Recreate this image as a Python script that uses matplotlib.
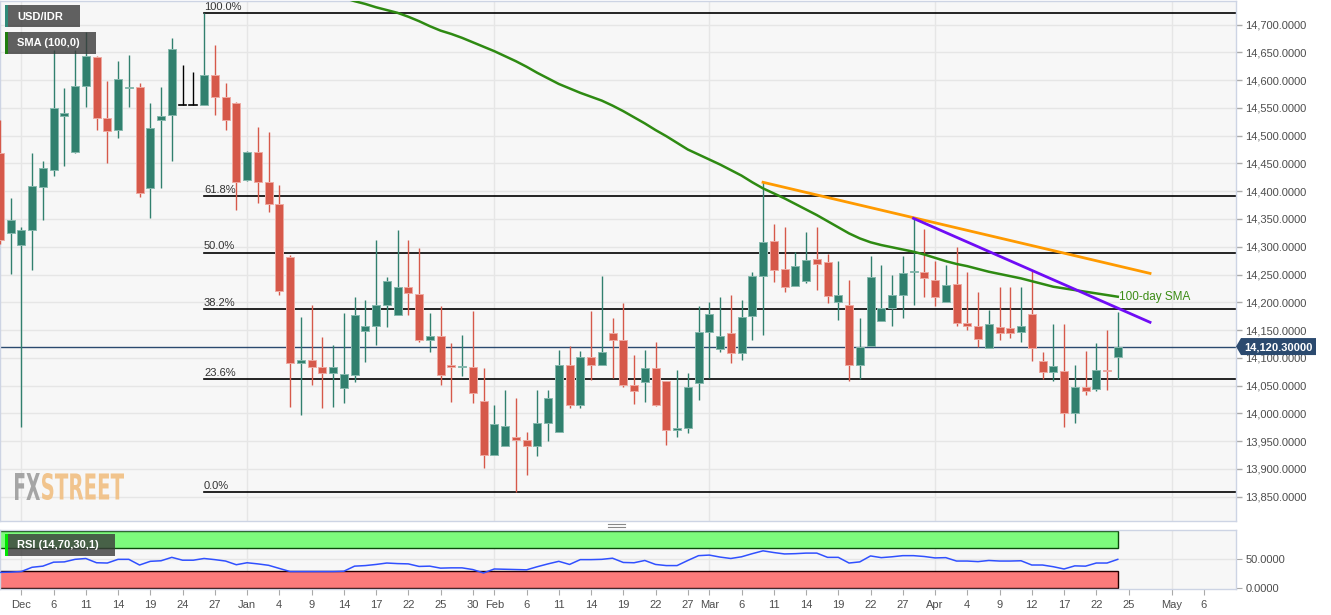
import numpy as np
import pandas as pd
import matplotlib
matplotlib.use('Agg')
import matplotlib.pyplot as plt
from matplotlib.patches import Rectangle, Polygon, PathPatch
from matplotlib.textpath import TextPath
from matplotlib.font_manager import FontProperties
from matplotlib.transforms import Affine2D
from matplotlib.ticker import FuncFormatter

plt.rcParams['font.family'] = ['Liberation Sans', 'DejaVu Sans']

# ---------------- data ----------------
first_date = '2018-11-29'
opens = [14469, 14324, 14304, 14331, 14408, 14439, 14536, 14470, 14590, 14641,
         14531, 14510, 14585, 14587, 14405, 14528, 14537, 14555, 14555, 14555,
         14609, 14569, 14559, 14421, 14470, 14416, 14377, 14281, 14090, 14096,
         14084, 14072, 14046, 14070, 14148, 14158, 14196, 14177, 14228, 14215,
         14132, 14139, 14087, 14083, 14084, 14023, 13926, 13942, 13957, 13952,
         13941, 13982, 13967, 14088, 14015, 14101, 14087, 14144, 14132, 14052,
         14056, 14081, 14059, 13971, 13974, 14054, 14147, 14116, 14144, 14109,
         14175, 14248, 14311, 14260, 14229, 14238, 14277, 14272, 14200, 14195,
         14087, 14121, 14167, 14190, 14213, 14254, 14255, 14240, 14200, 14233,
         14163, 14158, 14118, 14155, 14153, 14147, 14178, 14094, 14074, 14076,
         14000, 14048, 14044, 14078, 14101]
highs = [14528, 14388, 14336, 14468, 14454, 14654, 14585, 14654, 14686, 14643,
         14598, 14634, 14646, 14594, 14558, 14587, 14675, 14628, 14614, 14720,
         14663, 14594, 14560, 14472, 14516, 14506, 14411, 14285, 14173, 14195,
         14138, 14123, 14181, 14209, 14205, 14312, 14246, 14331, 14313, 14297,
         14181, 14194, 14126, 14142, 14185, 14081, 14015, 14043, 14027, 13966,
         14043, 14043, 14114, 14121, 14112, 14185, 14247, 14171, 14198, 14105,
         14115, 14128, 14059, 14078, 14073, 14193, 14200, 14210, 14214, 14205,
         14255, 14416, 14341, 14336, 14290, 14326, 14336, 14287, 14274, 14241,
         14171, 14284, 14268, 14250, 14284, 14351, 14332, 14275, 14267, 14300,
         14255, 14219, 14186, 14228, 14228, 14228, 14259, 14110, 14161, 14161,
         14087, 14112, 14127, 14150, 14182]
lows = [14305, 14251, 13975, 14259, 14348, 14427, 14445, 14468, 14552, 14511,
        14450, 14495, 14552, 14390, 14351, 14405, 14454, 14555, 14555, 14555,
        14537, 14511, 14367, 14418, 14379, 14363, 14214, 14011, 13997, 14051,
        14009, 14012, 14019, 14057, 14092, 14124, 14156, 14177, 14177, 14129,
        14110, 14052, 14020, 14068, 14019, 13901, 13926, 13942, 13859, 13890,
        13924, 13950, 13967, 14009, 14009, 14060, 14087, 14063, 14047, 14017,
        14021, 14014, 13944, 13958, 13965, 14024, 14064, 14111, 14090, 14097,
        14132, 14141, 14236, 14219, 14229, 14234, 14222, 14198, 14169, 14059,
        14062, 14121, 14167, 14157, 14171, 14196, 14209, 14193, 14200, 14157,
        14150, 14120, 14118, 14133, 14135, 14129, 14094, 14062, 14059, 13976,
        13983, 14034, 14041, 14042, 14062]
closes = [14312, 14348, 14330, 14409, 14441, 14549, 14540, 14589, 14643, 14531,
          14509, 14602, 14588, 14397, 14514, 14536, 14656, 14555, 14555, 14609,
          14570, 14528, 14417, 14470, 14417, 14377, 14221, 14090, 14096, 14084,
          14072, 14083, 14070, 14177, 14158, 14196, 14238, 14227, 14216, 14132,
          14140, 14070, 14083, 14085, 14036, 13926, 13981, 13978, 13953, 13941,
          13982, 14028, 14088, 14015, 14101, 14087, 14110, 14133, 14052, 14040,
          14081, 14016, 13971, 13974, 14048, 14147, 14179, 14140, 14109, 14174,
          14248, 14309, 14258, 14228, 14265, 14277, 14269, 14212, 14213, 14087,
          14120, 14246, 14189, 14213, 14252, 14255, 14244, 14210, 14231, 14163,
          14158, 14134, 14160, 14145, 14145, 14158, 14117, 14074, 14086, 14000,
          14048, 14041, 14078, 14076, 14120.3]

sma_first_date = '2019-01-10'
sma_100 = [14762, 14755, 14748, 14742, 14737, 14731, 14726, 14721, 14714, 14706,
           14697, 14689, 14683, 14676, 14668, 14660, 14652, 14643, 14634, 14624,
           14613, 14603, 14593, 14585, 14577, 14570, 14563, 14554, 14544, 14533,
           14522, 14510, 14499, 14487, 14475, 14466, 14457, 14448, 14438, 14428,
           14416, 14405, 14396, 14387, 14377, 14367, 14357, 14346, 14335, 14324,
           14315, 14308, 14303, 14299, 14295, 14291, 14286, 14280, 14274, 14269,
           14265, 14260, 14255, 14251, 14247, 14243, 14238, 14233, 14228, 14225,
           14222, 14219, 14216, 14213, 14210]

rsi = [27, 27.5, 28.5, 36, 38, 45, 45.5, 50, 51.5, 44,
       43.5, 50, 50, 40, 46.5, 47.5, 53.5, 48.5, 48.5, 51.5,
       49.5, 47, 40.5, 44, 42, 39.5, 34, 28.5, 28.5, 28.5,
       28.5, 28.5, 29, 38, 39, 41, 43.5, 42.5, 42, 37.5,
       38, 34.5, 35, 35, 32, 26, 33, 32.5, 32, 31.5,
       37, 42, 46.5, 41, 49.5, 49.5, 50, 52, 44.5, 44,
       48, 41, 39, 39, 48, 56.5, 57.5, 54, 51.5, 54.5,
       60, 65, 62, 59.5, 60, 61, 61, 53.5, 53.5, 43.5,
       45.5, 56, 53, 54.5, 56.5, 56.5, 55, 52.5, 53, 47,
       47, 46, 48, 47, 47, 47.5, 40, 40, 37, 33,
       38.5, 38, 43.5, 43.5, 50]

fib_high_date = '2018-12-26'
fib_high = 14720.2
fib_low = 13858.0
fib_ratios = [1.0, 0.618, 0.5, 0.382, 0.236, 0.0]
fib_labels = ['100.0%', '61.8%', '50.0%', '38.2%', '23.6%', '0.0%']

orange_dates = ['2019-03-08', '2019-04-29']
orange_vals = [14416, 14252]
purple_dates = ['2019-03-28', '2019-04-29']
purple_vals = [14351, 14164]

last_price = 14120.3

tick_dates = ['2018-12-03', '2018-12-06', '2018-12-11', '2018-12-14', '2018-12-19',
              '2018-12-24', '2018-12-27', '2019-01-01', '2019-01-04', '2019-01-09',
              '2019-01-14', '2019-01-17', '2019-01-22', '2019-01-25', '2019-01-30',
              '2019-02-01', '2019-02-06', '2019-02-11', '2019-02-14', '2019-02-19',
              '2019-02-22', '2019-02-27', '2019-03-01', '2019-03-06', '2019-03-11',
              '2019-03-14', '2019-03-19', '2019-03-22', '2019-03-27', '2019-04-01',
              '2019-04-04', '2019-04-09', '2019-04-12', '2019-04-17', '2019-04-22',
              '2019-04-25', '2019-05-01', '2019-05-06']
tick_labels = ['Dec', '6', '11', '14', '19', '24', '27', 'Jan', '4', '9', '14', '17',
               '22', '25', '30', 'Feb', '6', '11', '14', '19', '22', '27', 'Mar', '6',
               '11', '14', '19', '22', '27', 'Apr', '4', '9', '12', '17', '22', '25',
               'May', '6']
month_dates = ['2018-12-03', '2019-01-01', '2019-02-01', '2019-03-01', '2019-04-01', '2019-05-01']
price_ticks = list(range(13850, 14701, 50))

# ---------------- trading-day axis ----------------
cal = pd.bdate_range(first_date, '2019-05-31')
pos = {d.strftime('%Y-%m-%d'): k for k, d in enumerate(cal)}
P = lambda d: pos[d]
n = len(closes)
xs = np.arange(n)

GREEN = '#31806e'
RED = '#d6594a'
GREEN_E = '#86b8ad'
RED_E = '#eeaaa2'
GRID = '#e6e6e6'
BG = '#f7f7f7'
SPINE = '#cdd4e4'
TXT = '#4d4d4d'

W, H = 1331, 615
fig = plt.figure(figsize=(W / 100, H / 100), dpi=100)
fig.patch.set_facecolor('white')
XL = (0.0186, 114.97)

ax = fig.add_axes([0, (H - 521) / H, 1235.7 / W, 520 / H])
ax.set_facecolor(BG)
ax.set_xlim(*XL)
ax.set_ylim(13806.3, 14742.3)
for yv in price_ticks:
    ax.axhline(yv, color=GRID, lw=1, zorder=0)
for d in month_dates:
    ax.axvline(P(d), color=GRID, lw=1, zorder=0)

# fib levels
fx0 = P(fib_high_date)
for r, lab in zip(fib_ratios, fib_labels):
    lv = fib_low + r * (fib_high - fib_low)
    ax.plot([fx0, XL[1]], [lv, lv], color='black', lw=1.2, zorder=2)
    ax.text(fx0, lv + 3, lab, fontsize=8, color='#333333', ha='left', va='bottom', zorder=2)

# price line
ax.axhline(last_price, color='#2b4a6f', lw=1, zorder=2)

# candles
for x, o, h, l, c in zip(xs, opens, highs, lows, closes):
    if o == c:
        col, ecol = 'black', 'black'
    elif c > o:
        col, ecol = GREEN, GREEN_E
    else:
        col, ecol = RED, RED_E
    ax.plot([x, x], [l, h], color=col, lw=1, zorder=3, solid_capstyle='butt')
    if o == c:
        ax.plot([x - 0.36, x + 0.36], [o, o], color='black', lw=1.2, zorder=4)
    else:
        bot = min(o, c)
        hgt = max(abs(c - o), 2.5)
        ax.bar(x, hgt, bottom=bot, width=0.74, color=col, edgecolor=ecol,
               linewidth=0.7, zorder=4)

# SMA
s0 = P(sma_first_date)
ax.plot(np.arange(s0, s0 + len(sma_100)), sma_100, color='#2e8a12', lw=1.8, zorder=5)
ax.text(s0 + len(sma_100) - 1 + 0.1, sma_100[-1], '100-day SMA', fontsize=8.5,
        color='#3b8c14', ha='left', va='center', zorder=6)

# trend lines
ax.plot([P(d) for d in orange_dates], orange_vals, color='#ff9a00', lw=2, zorder=5)
ax.plot([P(d) for d in purple_dates], purple_vals, color='#6f0cf5', lw=2, zorder=5)

ax.yaxis.tick_right()
ax.set_yticks(price_ticks)
ax.yaxis.set_major_formatter(FuncFormatter(lambda v, p: f'{v:,.4f}'))
ax.tick_params(axis='y', length=4, width=1, color='#aaaaaa', labelsize=8,
               labelcolor=TXT, pad=3)
ax.tick_params(axis='x', bottom=False, labelbottom=False)
for s in ax.spines.values():
    s.set_color(SPINE)
    s.set_linewidth(1)

# ---------------- RSI panel ----------------
ar = fig.add_axes([0, (H - 588.5) / H, 1235.7 / W, 59 / H])
ar.set_facecolor(BG)
ar.set_xlim(*XL)
ar.set_ylim(-1.4, 102.6)
ar.axhline(50, color=GRID, lw=1, zorder=0)
for d in month_dates:
    ar.axvline(P(d), color=GRID, lw=1, zorder=0)
band_x0 = -0.5
band_x1 = n - 1
ar.add_patch(Rectangle((band_x0, 70), band_x1 - band_x0, 30, facecolor='#7dfb7d',
                       edgecolor='#0b4a0b', lw=1, zorder=1))
ar.add_patch(Rectangle((band_x0, 0), band_x1 - band_x0, 30, facecolor='#fb7b7b',
                       edgecolor='#220000', lw=1, zorder=1))
ar.plot(xs, rsi, color='#3050ff', lw=1.1, zorder=3)
ar.yaxis.tick_right()
ar.set_yticks([0, 50])
ar.set_yticklabels(['0.0000', '50.0000'])
ar.set_xticks([P(d) for d in tick_dates])
ar.set_xticklabels(tick_labels)
ar.tick_params(axis='y', length=4, color='#aaaaaa', labelsize=8, labelcolor=TXT, pad=3)
ar.tick_params(axis='x', length=4, color='#aaaaaa', labelsize=8, labelcolor=TXT, pad=4)
for s in ar.spines.values():
    s.set_color(SPINE)
    s.set_linewidth(1)

# ---------------- overlay (pixel coordinates) ----------------
ov = fig.add_axes([0, 0, 1, 1])
ov.set_xlim(0, W)
ov.set_ylim(H, 0)
ov.axis('off')
ov.patch.set_visible(False)

def label_box(x, y, w, h, stripe, text):
    ov.add_patch(Rectangle((x, y), w, h, facecolor='#3a3a3a', alpha=0.8, lw=0))
    ov.add_patch(Rectangle((x, y), 2.6, h, facecolor=stripe, lw=0))
    ov.text(x + 12, y + h / 2 + 0.5, text, color='white', fontsize=8, fontweight='bold',
            ha='left', va='center')

label_box(5, 5, 75, 22, '#2f8a78', 'USD/IDR')
label_box(5, 32, 91, 22, '#1e7d0e', 'SMA (100,0)')
label_box(5, 534, 110, 22, '#00e600', 'RSI (14,70,30,1)')

# price tag
yp = 24.5 + (14700 - last_price) / 1.8
ov.add_patch(Polygon([(1236, yp), (1241, yp - 8.5), (1316, yp - 8.5), (1316, yp + 8.5),
                      (1241, yp + 8.5)], closed=True, facecolor='#2b4a6f', lw=0))
ov.text(1278.5, yp + 0.5, f'{last_price:,.5f}', color='white', fontsize=8,
        fontweight='bold', ha='center', va='center')

# drag handle
ov.plot([608, 625], [524, 524], color='#888888', lw=0.8)
ov.plot([608, 625], [527, 527], color='#888888', lw=0.8)

# watermark
fp = FontProperties(family='DejaVu Sans', weight='bold')
def squeezed(txt, x0, x1, ytop, ybot, color):
    tp = TextPath((0, 0), txt, size=10, prop=fp)
    bb = tp.get_extents()
    sx = (x1 - x0) / bb.width
    sy = (ybot - ytop) / bb.height
    tr = Affine2D().translate(-bb.x0, -bb.y0).scale(sx, -sy).translate(x0, ybot)
    ov.add_patch(PathPatch(tr.transform_path(tp), facecolor=color, lw=0, alpha=0.9))

squeezed('FX', 15, 40, 473, 500, '#9c9c9c')
squeezed('STREET', 42, 124, 473, 500, '#f1bf82')

fig.savefig('out.png', dpi=100, facecolor='white')
